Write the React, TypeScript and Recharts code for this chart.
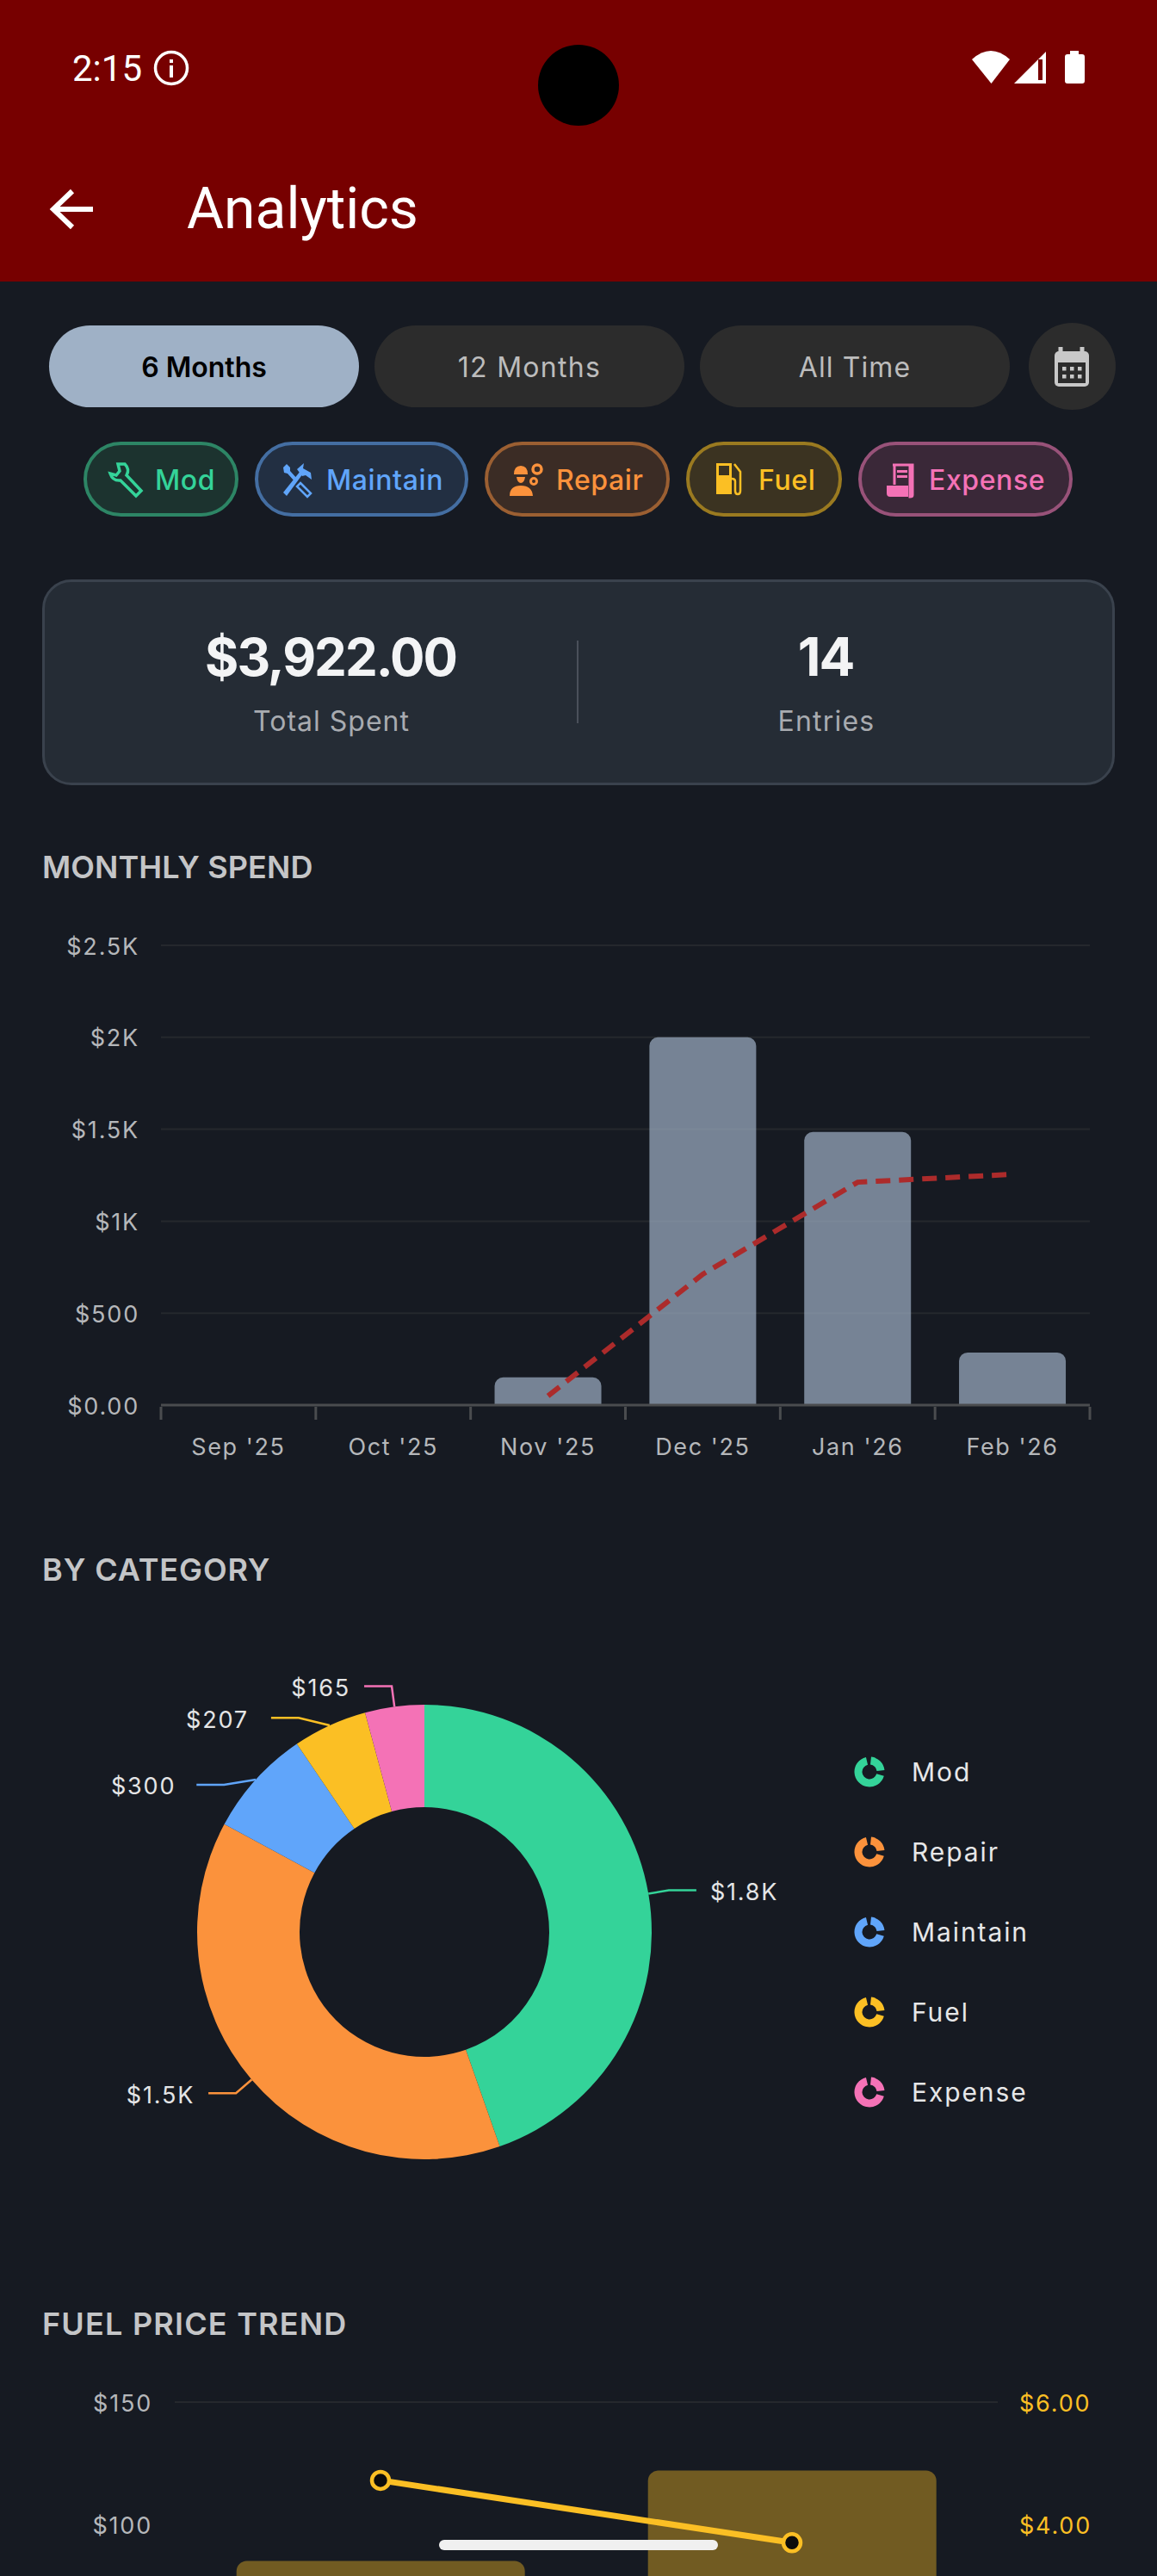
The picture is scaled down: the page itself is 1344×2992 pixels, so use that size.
import React from "react";
import {
  Bar,
  CartesianGrid,
  ComposedChart,
  Legend,
  Line,
  Pie,
  PieChart,
  XAxis,
  YAxis,
} from "recharts";

const months = ["Sep '25", "Oct '25", "Nov '25", "Dec '25", "Jan '26", "Feb '26"];
const monthlySpend = [0, 0, 151, 2000, 1485, 286];
const rollingAverage = [null, null, 50, 712, 1212, 1255];
const spendTicks = [0, 500, 1000, 1500, 2000, 2500];
const spendTickLabels = ["$0.00", "$500", "$1K", "$1.5K", "$2K", "$2.5K"];

const categories = ["Mod", "Repair", "Maintain", "Fuel", "Expense"];
const categoryValues = [1750, 1500, 300, 207, 165];
const categoryLabels = ["$1.8K", "$1.5K", "$300", "$207", "$165"];
const categoryColors = ["#34d399", "#fb923c", "#60a5fa", "#fbbf24", "#f472b6"];

const fuelMonths = ["Jan '26", "Feb '26"];
const fuelSpend = [85, 122];
const fuelPrice = [4.72, 3.7];
// the rest of this chart runs off the bottom of the screen
const fuelSpendTicks = [100, 150];
const fuelPriceTicks = [4, 6];

const monthlyData = months.map((month, i) => ({
  month,
  spend: monthlySpend[i],
  average: rollingAverage[i],
}));
const categoryData = categories.map((name, i) => ({
  name,
  value: categoryValues[i],
  fill: categoryColors[i],
}));
const fuelData = fuelMonths.map((month, i) => ({
  month,
  spend: fuelSpend[i],
  price: fuelPrice[i],
}));

const FONT = "Inter, sans-serif";
const BG = "#161a22";
const TICK = "#b5b7ba";
const GRID = "#25282d";
const AXIS = "#4a4c4f";
const MONTH_BAND = (1266 - 187) / 6;

// the small labels on the upper left get pushed apart from their slices: bend dx, bend dy, text dx
const labelNudge = [
  [0, 0, 0],
  [0, 0, 0],
  [-19, 22, -8],
  [-26, 13, -10],
  [0, 0, 0],
];

type TextProps = {
  x: number;
  y: number;
  size: number;
  color: string;
  weight?: number;
  align?: "left" | "center";
  spacing?: number;
  children: React.ReactNode;
};

// y is the vertical centre of the line
function Label({ x, y, size, color, weight = 400, align = "left", spacing = 0, children }: TextProps) {
  return (
    <div
      style={{
        position: "absolute",
        left: align === "center" ? x - 300 : x,
        width: align === "center" ? 600 : undefined,
        top: y - 50,
        height: 100,
        lineHeight: "100px",
        textAlign: align,
        fontSize: size,
        fontWeight: weight,
        letterSpacing: spacing,
        color,
        whiteSpace: "nowrap",
        fontFamily: FONT,
      }}
    >
      {children}
    </div>
  );
}

function Box({ x, y, w, h, fill, border, borderWidth = 3.5, radius }: { x: number; y: number; w: number; h: number; fill: string; border?: string; borderWidth?: number; radius: number }) {
  return (
    <div
      style={{
        position: "absolute",
        left: x,
        top: y,
        width: w,
        height: h,
        boxSizing: "border-box",
        background: fill,
        border: border ? `${borderWidth}px solid ${border}` : undefined,
        borderRadius: radius,
      }}
    />
  );
}

function StatusBar() {
  return (
    <>
      <div style={{ position: "absolute", left: 0, top: 0, width: 1344, height: 327, background: "#770000" }} />
      <Label x={84} y={79} size={42} color="#fff" weight={400}>
        <span style={{ fontFamily: "Roboto" }}>2:15</span>
      </Label>
      <Label x={217} y={241} size={66} color="#fff">
        <span style={{ fontFamily: "Roboto" }}>Analytics</span>
      </Label>
      <svg width={1344} height={327} style={{ position: "absolute", left: 0, top: 0 }}>
        <circle cx={672} cy={99} r={47} fill="#000" />
        <circle cx={199} cy={79} r={18.5} fill="none" stroke="#fff" strokeWidth={3.5} />
        <rect x={197} y={76} width={4} height={14} fill="#fff" />
        <rect x={197} y={69} width={4} height={4} fill="#fff" />
        <path d="M1129 69 Q1151 49 1173 69 L1151.5 97 Z" fill="#fff" />
        <path d="M1178 97 L1215 60 V97 Z M1206 69 L1211 69 V93 H1206 Z" fill="#fff" fillRule="evenodd" />
        <path d="M1243 63 V59 H1253 V63 H1257 Q1260 63 1260 66 V94 Q1260 97 1257 97 H1240 Q1237 97 1237 94 V66 Q1237 63 1240 63 Z" fill="#fff" />
        <path d="M108 243 H64 M84 222 L62 243 L84 264" fill="none" stroke="#fff" strokeWidth={6} />
      </svg>
    </>
  );
}

function RangeButtons() {
  return (
    <>
      <Box x={57} y={378} w={360} h={95} fill="#9fb1c6" radius={48} />
      <Box x={435} y={378} w={360} h={95} fill="#2c2c2c" radius={48} />
      <Box x={813} y={378} w={360} h={95} fill="#2c2c2c" radius={48} />
      <Box x={1195} y={375} w={101} h={101} fill="#2c2c2c" radius={51} />
      <Label x={237} y={427} size={32} color="#000" weight={600} align="center">6 Months</Label>
      <Label x={615} y={427} size={32} color="#bcbcbc" align="center" spacing={1.3}>12 Months</Label>
      <Label x={993} y={427} size={32} color="#bcbcbc" align="center" spacing={1.1}>All Time</Label>
      <svg width={110} height={110} style={{ position: "absolute", left: 1190, top: 370 }}>
        <path d="M42 33 V43 M67 33 V43" stroke="#c8c8c8" strokeWidth={5} />
        <rect x={35} y={38} width={40} height={41} rx={5} fill="#c8c8c8" />
        <rect x={39} y={51} width={32} height={24} fill="#2c2c2c" />
        {[46, 55, 64].map((cx) =>
          [58, 67].map((cy) => <rect key={`${cx}-${cy}`} x={cx - 2} y={cy - 2} width={4.5} height={4.5} fill="#c8c8c8" />),
        )}
      </svg>
    </>
  );
}

function ChipIcon({ kind, color }: { kind: string; color: string }) {
  switch (kind) {
    case "Mod":
      return (
        <svg width={44} height={44} viewBox="0 0 44 44" style={{ position: "absolute", left: 125, top: 535 }}>
          <path d="M12 4 L20 4 Q26 10 22 17 L39 35 L33 41 L15 23 Q6 24 3 15 L10 17 L14 12 Z" fill="none" stroke={color} strokeWidth={3.5} />
        </svg>
      );
    case "Maintain":
      return (
        <svg width={40} height={44} viewBox="0 0 40 44" style={{ position: "absolute", left: 325, top: 535 }}>
          <path d="M4 8 L8 4 L12 8 L12 12 L21 22 L18 25 L9 15 L5 14 Z" fill={color} />
          <path d="M24 26 L36 38 L32 42 L20 30 Z" fill="none" stroke={color} strokeWidth={2.5} />
          <path d="M4 37 L24 12 L27 15 L8 41 Z" fill={color} />
          <path d="M20 10 L28 3 L27 9 L36 14 L37 22 L30 17 L26 18 Z" fill={color} />
        </svg>
      );
    case "Repair":
      return (
        <svg width={42} height={44} viewBox="0 0 42 44" style={{ position: "absolute", left: 591, top: 535 }}>
          <path d="M6 16 Q6 6 14 6 Q22 6 22 16 Z M9 19 H19 Q18 26 14 26 Q10 26 9 19 Z M1 41 Q1 29 14 29 Q27 29 28 41 Z" fill={color} />
          <circle cx={33} cy={10} r={5} fill="none" stroke={color} strokeWidth={3.5} />
          <circle cx={29} cy={24} r={3.5} fill="none" stroke={color} strokeWidth={3} />
        </svg>
      );
    case "Fuel":
      return (
        <svg width={32} height={44} viewBox="0 0 32 44" style={{ position: "absolute", left: 831, top: 535 }}>
          <path fillRule="evenodd" d="M1 3 H19 V39 H1 Z M4 6 V17 H16 V6 Z" fill={color} />
          <path d="M22 4 L29 13 V35 Q29 39 26 39 Q23 39 23 35 V24 Q23 21 19 21" fill="none" stroke={color} strokeWidth={2.5} />
        </svg>
      );
    default:
      return (
        <svg width={34} height={44} viewBox="0 0 34 44" style={{ position: "absolute", left: 1029, top: 535 }}>
          <path d="M8 5 H31 V40 Q31 42 28 42 V6 M10 5 V28" fill="none" stroke={color} strokeWidth={3} />
          <path d="M1 29 H26 V42 H5 Q1 42 1 38 Z M13 11 H25 V14 H13 Z M13 17 H25 V20 H13 Z" fill={color} />
        </svg>
      );
  }
}

const chips = [
  { name: "Mod", color: "#34d399", x: 97, w: 180, fill: "#1c332f", border: "#2d8565", textX: 180 },
  { name: "Maintain", color: "#60a5fa", x: 296, w: 248, fill: "#222f42", border: "#446ea2", textX: 379 },
  { name: "Repair", color: "#fb923c", x: 563, w: 215, fill: "#3b2c25", border: "#9b5f32", textX: 646 },
  { name: "Fuel", color: "#fbbf24", x: 797, w: 181, fill: "#3b3321", border: "#9a7a20", textX: 881 },
  { name: "Expense", color: "#f472b6", x: 997, w: 249, fill: "#3a2838", border: "#985279", textX: 1079 },
];

function Chips() {
  return (
    <>
      {chips.map((c) => (
        <React.Fragment key={c.name}>
          <Box x={c.x} y={513} w={c.w} h={87} fill={c.fill} border={c.border} borderWidth={4.5} radius={44} />
          <ChipIcon kind={c.name} color={c.color} />
          <Label x={c.textX} y={558} size={32} color={c.color} weight={500} spacing={0.6}>{c.name}</Label>
        </React.Fragment>
      ))}
    </>
  );
}

function SummaryCard() {
  return (
    <>
      <Box x={49} y={673} w={1246} h={239} fill="#252c35" border="#3a424d" radius={34} />
      <div style={{ position: "absolute", left: 670, top: 744, width: 2, height: 96, background: "#4a505a" }} />
      <Label x={384} y={763} size={60} color="#f3f4f5" weight={700} align="center" spacing={-2}>$3,922.00</Label>
      <Label x={959} y={763} size={62} color="#f3f4f5" weight={700} align="center" spacing={-2}>14</Label>
      <Label x={385} y={838} size={32} color="#a8abb0" align="center" spacing={1}>Total Spent</Label>
      <Label x={960} y={838} size={32} color="#a8abb0" align="center" spacing={1.2}>Entries</Label>
    </>
  );
}

function MonthTick({ x, y, payload, index }: any) {
  return (
    <g>
      <text x={x} y={y + 46} textAnchor="middle" dominantBaseline="central" fill={TICK} fontSize={27} fontFamily={FONT} letterSpacing={1.6}>
        {payload.value}
      </text>
      <line x1={x - MONTH_BAND / 2} x2={x - MONTH_BAND / 2} y1={y} y2={y + 15} stroke={AXIS} strokeWidth={3} />
      {index === months.length - 1 && (
        <line x1={x + MONTH_BAND / 2} x2={x + MONTH_BAND / 2} y1={y} y2={y + 15} stroke={AXIS} strokeWidth={3} />
      )}
    </g>
  );
}

function MonthlySpend() {
  return (
    <div style={{ position: "absolute", left: 0, top: 1050 }}>
      <ComposedChart
        width={1344}
        height={700}
        data={monthlyData}
        margin={{ top: 48, right: 78, bottom: 48, left: 0 }}
        barCategoryGap="15.5%"
      >
        <CartesianGrid vertical={false} stroke={GRID} strokeWidth={2} />
        <XAxis
          dataKey="month"
          height={70}
          interval={0}
          tickSize={0}
          tickLine={false}
          axisLine={{ stroke: AXIS, strokeWidth: 3 }}
          tick={<MonthTick />}
        />
        <YAxis
          width={187}
          domain={[0, 2500]}
          ticks={spendTicks}
          interval={0}
          tickLine={false}
          axisLine={false}
          tickSize={0}
          tickMargin={25}
          tick={{ fill: TICK, fontSize: 27, fontFamily: FONT, letterSpacing: 1.8, dy: 1 }}
          tickFormatter={(v: number) => spendTickLabels[spendTicks.indexOf(v)]}
        />
        <Bar dataKey="spend" fill="#9fb1c6" fillOpacity={0.7} radius={[10, 10, 0, 0]} isAnimationActive={false} />
        <Line
          type="linear"
          dataKey="average"
          stroke="#ac2b2b"
          strokeWidth={6}
          strokeDasharray="17 10"
          dot={false}
          isAnimationActive={false}
        />
      </ComposedChart>
    </div>
  );
}

function SliceLabel({ cx, cy, midAngle, outerRadius, index }: any) {
  const rad = (-midAngle * Math.PI) / 180;
  const [dx, dy, textDx] = labelNudge[index];
  const sx = cx + outerRadius * Math.cos(rad);
  const sy = cy + outerRadius * Math.sin(rad);
  const bx = cx + (outerRadius + 24) * Math.cos(rad) + dx;
  const by = cy + (outerRadius + 24) * Math.sin(rad) + dy;
  const side = Math.cos(rad) >= 0 ? 1 : -1;
  const ex = bx + side * 32;
  return (
    <g>
      <path d={`M${sx} ${sy} L${bx} ${by} L${ex} ${by}`} fill="none" stroke={categoryColors[index]} strokeWidth={2.5} />
      <text
        x={ex + side * 16 + textDx}
        y={by + 2}
        textAnchor={side > 0 ? "start" : "end"}
        dominantBaseline="central"
        fill="#e4e5e6"
        fontSize={27}
        fontFamily={FONT}
        letterSpacing={1.8}
      >
        {categoryLabels[index]}
      </text>
    </g>
  );
}

function RingIcon({ color }: { color: string }) {
  return (
    <svg width={40} height={40} viewBox="0 0 40 40">
      <path d="M21.5 7 A13 13 0 0 1 33 18.5" fill="none" stroke={color} strokeWidth={9} />
      <path d="M32.5 23.5 A13 13 0 1 1 17 7.3" fill="none" stroke={color} strokeWidth={9} />
    </svg>
  );
}

function CategoryLegend({ payload }: any) {
  return (
    <div>
      {(payload ?? []).map((entry: any) => (
        <div key={entry.value} style={{ display: "flex", alignItems: "center", height: 93 }}>
          <RingIcon color={entry.color} />
          <span style={{ marginLeft: 29, fontFamily: FONT, fontSize: 30, color: "#e6e7e8", letterSpacing: 1.9 }}>{entry.value}</span>
        </div>
      ))}
    </div>
  );
}

function ByCategory() {
  return (
    <div style={{ position: "absolute", left: 0, top: 1880 }}>
      <PieChart width={1344} height={730} margin={{ top: 0, right: 0, bottom: 0, left: 0 }}>
        <Pie
          data={categoryData}
          dataKey="value"
          nameKey="name"
          cx={493}
          cy={364}
          innerRadius={145}
          outerRadius={264}
          startAngle={90}
          endAngle={-270}
          stroke="none"
          label={<SliceLabel />}
          labelLine={false}
          isAnimationActive={false}
        />
        <Legend
          content={<CategoryLegend />}
          layout="vertical"
          itemSorter={null}
          wrapperStyle={{ position: "absolute", left: 990, top: 131, width: 300, bottom: "auto" }}
        />
      </PieChart>
    </div>
  );
}

function FuelTrend() {
  return (
    <div style={{ position: "absolute", left: 0, top: 2730 }}>
      <ComposedChart
        width={1344}
        height={570}
        data={fuelData}
        margin={{ top: 60, right: 0, bottom: 84, left: 0 }}
        barCategoryGap="15%"
      >
        <CartesianGrid vertical={false} stroke={GRID} strokeWidth={2} />
        <XAxis dataKey="month" hide />
        <YAxis
          yAxisId="spend"
          width={203}
          domain={[0, 150]}
          ticks={fuelSpendTicks}
          interval={0}
          tickLine={false}
          axisLine={false}
          tickSize={0}
          tickMargin={26}
          tick={{ fill: TICK, fontSize: 27, fontFamily: FONT, letterSpacing: 1.8, dy: 1 }}
          tickFormatter={(v: number) => `$${v}`}
        />
        <YAxis
          yAxisId="price"
          orientation="right"
          width={185}
          domain={[0, 6]}
          ticks={fuelPriceTicks}
          interval={0}
          tickLine={false}
          axisLine={false}
          tickSize={0}
          tickMargin={25}
          tick={{ fill: "#fbbf24", fontSize: 27, fontFamily: FONT, letterSpacing: 1.8, dy: 1 }}
          tickFormatter={(v: number) => `$${v.toFixed(2)}`}
        />
        <Bar yAxisId="spend" dataKey="spend" fill="#fbbf24" fillOpacity={0.4} radius={[12, 12, 0, 0]} isAnimationActive={false} />
        <Line
          yAxisId="price"
          type="linear"
          dataKey="price"
          stroke="#fbbf24"
          strokeWidth={7}
          dot={{ r: 10, fill: "#0c0c0c", stroke: "#fbbf24", strokeWidth: 4.5 }}
          isAnimationActive={false}
        />
      </ComposedChart>
    </div>
  );
}

export default function App() {
  return (
    <div style={{ position: "absolute", left: 0, top: 0, width: 1344, height: 2992, overflow: "hidden", background: BG }}>
      <StatusBar />
      <RangeButtons />
      <Chips />
      <SummaryCard />
      <Label x={49} y={1007} size={36} color="#c4c5c7" weight={600} spacing={0.1}>MONTHLY SPEND</Label>
      <MonthlySpend />
      <Label x={49} y={1823} size={36} color="#c4c5c7" weight={600} spacing={0.9}>BY CATEGORY</Label>
      <ByCategory />
      <Label x={49} y={2699} size={36} color="#c4c5c7" weight={600} spacing={1.2}>FUEL PRICE TREND</Label>
      <FuelTrend />
      <div style={{ position: "absolute", left: 510, top: 2950, width: 324, height: 12, borderRadius: 6, background: "#f0f0f0" }} />
    </div>
  );
}
